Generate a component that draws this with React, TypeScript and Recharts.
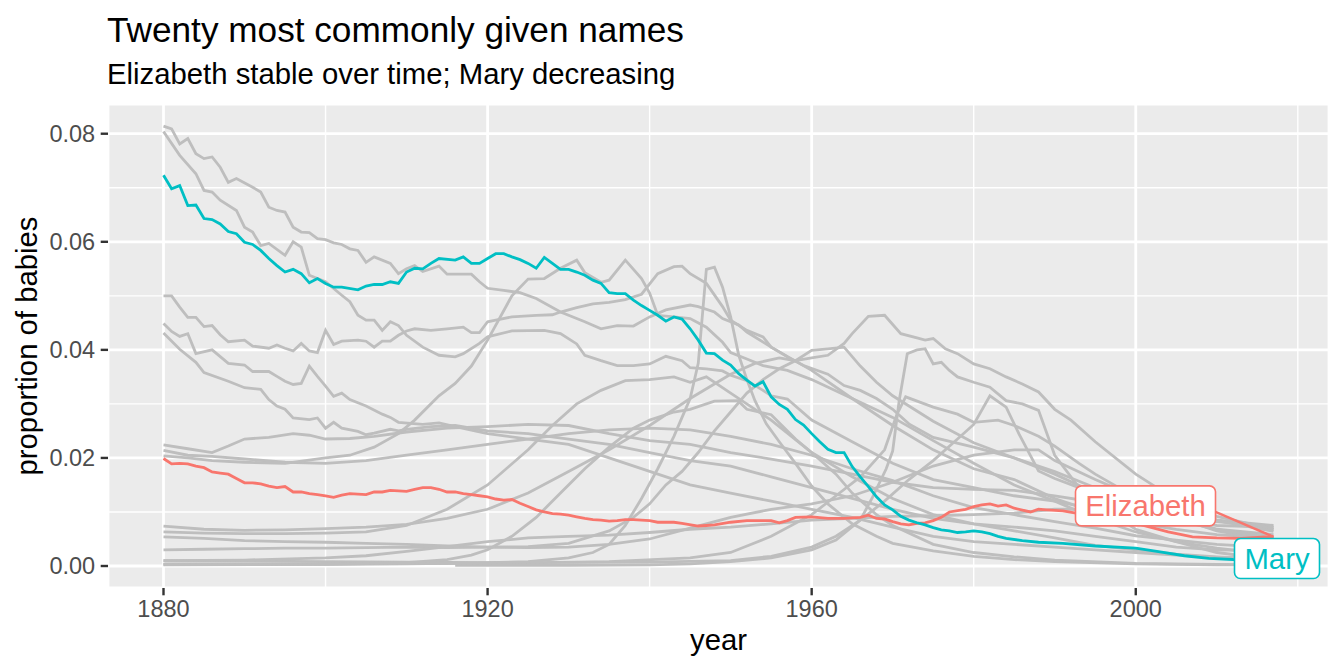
import React from 'react';
import { LineChart, Line, XAxis, YAxis, CartesianGrid, ReferenceDot } from 'recharts';

type Pt = [number, number];

const FONT = '"Liberation Sans", Arial, Helvetica, sans-serif';

const TITLE = 'Twenty most commonly given names';
const SUBTITLE = 'Elizabeth stable over time; Mary decreasing';
const X_TITLE = 'year';
const Y_TITLE = 'proportion of babies';

const YEAR_TICKS = [1880, 1920, 1960, 2000];
const YEAR_MINOR = [1900, 1940, 1980, 2020];
const PROP_TICKS = [0, 0.02, 0.04, 0.06, 0.08];
const PROP_MINOR = [0.01, 0.03, 0.05, 0.07];

const MARY: Pt[] = [
  [1880, .0723], [1881, .0698], [1882, .0704], [1883, .0667], [1884, .0668], [1885, .0643], [1886, .0641], [1887, .0633],
  [1888, .0619], [1889, .0615], [1890, .0599], [1891, .0595], [1892, .0584], [1893, .0569], [1894, .0556], [1895, .0544],
  [1896, .0549], [1897, .0541], [1898, .0524], [1899, .0532], [1900, .0523], [1901, .0516], [1902, .0516], [1904, .0511],
  [1905, .0518], [1906, .0521], [1907, .0521], [1908, .0526], [1909, .0523], [1910, .0544], [1911, .0551], [1912, .055],
  [1913, .056], [1914, .0569], [1916, .0566], [1917, .0572], [1918, .056], [1919, .056], [1920, .0569], [1921, .0578],
  [1922, .0578], [1923, .0572], [1924, .0567], [1925, .056], [1926, .0551], [1927, .0571], [1928, .056], [1929, .0549],
  [1930, .0549], [1931, .0544], [1932, .0538], [1933, .0529], [1934, .0523], [1935, .0506], [1936, .0504], [1937, .0504],
  [1938, .0492], [1939, .0482], [1940, .0473], [1941, .0464], [1942, .0453], [1943, .0461], [1944, .0457], [1945, .0439],
  [1946, .0418], [1947, .0394], [1948, .0393], [1949, .0381], [1950, .0372], [1951, .0356], [1952, .0344], [1953, .0333],
  [1954, .0341], [1955, .0313], [1956, .0299], [1957, .029], [1958, .0271], [1959, .0261], [1960, .0245], [1961, .023],
  [1962, .0216], [1963, .021], [1964, .021], [1965, .0184], [1966, .0165], [1967, .0147], [1968, .0128], [1969, .0113],
  [1970, .0104], [1971, .0092], [1972, .0085], [1973, .008], [1974, .0076], [1975, .0071], [1976, .0067], [1977, .0065],
  [1978, .0062], [1979, .0063], [1980, .0065], [1981, .0063], [1982, .006], [1983, .0055], [1984, .0051], [1986, .0047],
  [1988, .0044], [1991, .0042], [1995, .0037], [2000, .0033], [2003, .0026], [2006, .0019], [2009, .0014], [2012, .0012],
  [2017, .0011],
];

const ELIZABETH: Pt[] = [
  [1880, .0199], [1881, .0189], [1882, .019], [1883, .0189], [1884, .0185], [1885, .0182], [1886, .0174], [1887, .0172],
  [1888, .017], [1889, .0162], [1890, .0154], [1891, .0154], [1892, .0152], [1893, .0148], [1894, .0145], [1895, .0147],
  [1896, .0137], [1897, .0137], [1898, .0134], [1899, .0132], [1900, .013], [1901, .0127], [1902, .0131], [1903, .0134],
  [1905, .0132], [1906, .0137], [1907, .0137], [1908, .014], [1910, .0138], [1911, .0142], [1912, .0145], [1913, .0145],
  [1914, .0142], [1915, .0137], [1916, .0137], [1917, .0134], [1918, .0132], [1919, .013], [1920, .0128], [1921, .0124],
  [1922, .0122], [1923, .0123], [1924, .0116], [1925, .011], [1926, .0104], [1927, .01], [1928, .0097], [1929, .0096],
  [1930, .0094], [1931, .0091], [1932, .0088], [1933, .0086], [1934, .0085], [1935, .0083], [1936, .0084], [1937, .0086],
  [1938, .0086], [1939, .0085], [1940, .0084], [1941, .0081], [1943, .0081], [1944, .0079], [1946, .0074], [1947, .0075],
  [1948, .0076], [1950, .0081], [1952, .0084], [1955, .0084], [1956, .008], [1957, .0084], [1958, .009], [1960, .0091],
  [1962, .0088], [1964, .0088], [1966, .009], [1967, .0094], [1968, .0088], [1969, .0087], [1970, .0082], [1971, .0078],
  [1972, .0076], [1973, .0079], [1974, .008], [1975, .0084], [1976, .009], [1977, .01], [1979, .0105], [1980, .011],
  [1981, .0113], [1982, .0115], [1983, .0111], [1984, .0113], [1985, .0107], [1987, .01], [1988, .0105], [1989, .0104],
  [1991, .0102], [1993, .0097], [1995, .0091], [2000, .0079], [2004, .0063], [2007, .0054], [2010, .0052], [2013, .0051],
  [2016, .0054], [2017, .0054],
];

const JOHN: Pt[] = [
  [1880, .0814], [1881, .0809], [1882, .0781], [1883, .0791], [1884, .0763], [1885, .0754], [1886, .0757], [1887, .0738],
  [1888, .071], [1889, .0717], [1891, .0701], [1892, .0692], [1893, .0664], [1894, .0658], [1895, .0655], [1896, .0627],
  [1897, .0618], [1898, .0617], [1899, .0606], [1900, .0604], [1901, .0598], [1902, .0595], [1903, .0587], [1904, .0584],
  [1905, .0562], [1906, .0572], [1908, .056], [1909, .0541], [1910, .055], [1911, .0556], [1912, .0545], [1914, .0555],
  [1915, .054], [1918, .054], [1919, .0526], [1920, .0514], [1922, .051], [1924, .0506], [1926, .0495], [1929, .047],
  [1932, .0452], [1934, .0439], [1936, .0445], [1938, .0444], [1940, .0461], [1942, .0474], [1945, .0483], [1946, .048],
  [1948, .047], [1949, .0458], [1951, .0446], [1952, .0433], [1955, .0405], [1960, .0362], [1965, .031], [1970, .026],
  [1975, .0215], [1980, .018], [1985, .016], [1990, .0125], [1995, .01], [2000, .008], [2005, .0068], [2010, .0058],
  [2017, .0052],
];

const WILLIAM: Pt[] = [
  [1880, .0804], [1882, .076], [1884, .0726], [1885, .0695], [1886, .0692], [1887, .0677], [1889, .0658], [1890, .0627],
  [1891, .0618], [1892, .0593], [1893, .0597], [1895, .0575], [1896, .06], [1897, .059], [1898, .0538], [1900, .0526],
  [1902, .0501], [1903, .0489], [1904, .0464], [1905, .0455], [1906, .0455], [1907, .0436], [1908, .0452], [1909, .0445],
  [1910, .0427], [1912, .0405], [1914, .039], [1916, .0387], [1917, .0393], [1919, .0412], [1920, .0424], [1923, .0435],
  [1927, .0436], [1929, .043], [1931, .0411], [1932, .039], [1934, .038], [1936, .0371], [1938, .0371], [1940, .0374],
  [1942, .0388], [1944, .038], [1945, .0367], [1947, .0365], [1949, .0361], [1950, .0353], [1952, .0343], [1954, .0325],
  [1955, .0315], [1957, .0309], [1960, .027], [1965, .023], [1970, .019], [1975, .016], [1980, .0145], [1985, .013],
  [1990, .012], [1995, .0105], [2000, .009], [2005, .0085], [2010, .0085], [2017, .0075],
];

const JAMES: Pt[] = [
  [1880, .05], [1881, .05], [1882, .0479], [1883, .046], [1884, .046], [1885, .0443], [1886, .0445], [1887, .0428],
  [1888, .0415], [1890, .0418], [1891, .0407], [1893, .0403], [1894, .0409], [1895, .0403], [1896, .0398], [1897, .0412],
  [1898, .0398], [1899, .0395], [1900, .0436], [1901, .041], [1902, .0416], [1904, .0418], [1905, .0416], [1906, .0405],
  [1907, .0416], [1908, .0416], [1909, .0427], [1910, .0435], [1911, .0439], [1913, .0436], [1915, .0439], [1917, .0442],
  [1918, .0432], [1919, .0432], [1920, .0452], [1921, .0455], [1923, .0461], [1926, .0464], [1928, .0465], [1929, .047],
  [1931, .0478], [1933, .0485], [1935, .0488], [1937, .0493], [1939, .0503], [1941, .0541], [1943, .0554], [1944, .0555],
  [1945, .0541], [1947, .0523], [1949, .048], [1950, .0455], [1952, .0436], [1954, .0424], [1955, .0405], [1957, .0387],
  [1959, .0371], [1962, .0355], [1964, .0334], [1966, .0325], [1968, .031], [1970, .029], [1972, .0263], [1975, .0238],
  [1980, .022], [1985, .02], [1990, .0175], [1995, .0145], [2000, .0105], [2005, .0088], [2010, .0075], [2017, .0072],
];

const GEORGE: Pt[] = [
  [1880, .0449], [1881, .0434], [1882, .0425], [1883, .043], [1884, .0393], [1886, .04], [1888, .0375], [1890, .0372],
  [1891, .036], [1893, .036], [1894, .0351], [1895, .0342], [1896, .0336], [1897, .0338], [1898, .037], [1899, .0351],
  [1900, .0333], [1901, .0314], [1902, .032], [1903, .0308], [1905, .0296], [1907, .0281], [1908, .0275], [1909, .0266],
  [1912, .0262], [1914, .0265], [1916, .0258], [1920, .0245], [1925, .0235], [1930, .0225], [1935, .02], [1940, .0175],
  [1945, .015], [1950, .0135], [1955, .012], [1960, .0105], [1965, .009], [1970, .0072], [1975, .0055], [1980, .0045],
  [1985, .004], [1990, .0035], [1995, .003], [2000, .0025], [2005, .002], [2010, .0016], [2017, .0014],
];

const CHARLES: Pt[] = [
  [1880, .0431], [1882, .0401], [1884, .0377], [1885, .0358], [1888, .0342], [1890, .033], [1892, .0327], [1893, .0308],
  [1894, .0296], [1895, .029], [1896, .0274], [1898, .0271], [1899, .0274], [1900, .0255], [1901, .0266], [1902, .0255],
  [1904, .0249], [1905, .0243], [1906, .0246], [1908, .0253], [1909, .025], [1910, .0253], [1913, .0258], [1916, .026],
  [1920, .025], [1925, .0245], [1930, .0235], [1935, .0225], [1940, .021], [1945, .0195], [1950, .0185], [1955, .0165],
  [1960, .0145], [1965, .0125], [1970, .0105], [1975, .0088], [1980, .0078], [1985, .0072], [1990, .0065], [1995, .0055],
  [2000, .0045], [2005, .0035], [2010, .003], [2017, .0028],
];

const JOSEPH: Pt[] = [
  [1880, .0224], [1883, .0217], [1886, .021], [1888, .0222], [1890, .0235], [1893, .0238], [1896, .0245], [1898, .0242],
  [1900, .0235], [1903, .0236], [1906, .024], [1910, .0248], [1915, .0255], [1920, .0258], [1925, .0262], [1930, .026],
  [1935, .0245], [1940, .0232], [1945, .0225], [1950, .021], [1955, .0198], [1960, .0185], [1965, .017], [1970, .0155],
  [1975, .0145], [1980, .0142], [1985, .014], [1990, .013], [1995, .0118], [2000, .0103], [2005, .0092], [2010, .0082],
  [2017, .0072],
];

const THOMAS: Pt[] = [
  [1880, .0214], [1883, .0205], [1886, .0203], [1890, .0198], [1895, .0192], [1900, .019], [1905, .0195], [1910, .0205],
  [1915, .0215], [1920, .0225], [1925, .0235], [1930, .0245], [1935, .0252], [1940, .0255], [1945, .0252], [1950, .024],
  [1955, .0225], [1960, .0205], [1965, .018], [1970, .0158], [1975, .013], [1980, .0108], [1985, .0095], [1990, .0082],
  [1995, .007], [2000, .0056], [2005, .0048], [2010, .004], [2017, .0034],
];

const ROBERT: Pt[] = [
  [1880, .0204], [1883, .02], [1886, .0195], [1890, .0192], [1895, .019], [1900, .02], [1903, .0205], [1906, .022],
  [1909, .0245], [1911, .027], [1914, .0315], [1916, .0338], [1918, .037], [1920, .0418], [1923, .05], [1925, .0531],
  [1927, .0532], [1929, .0551], [1931, .0566], [1932, .0543], [1934, .0525], [1935, .0529], [1937, .0566], [1939, .0532],
  [1940, .0505], [1941, .0464], [1943, .0461], [1945, .0458], [1947, .0442], [1949, .0414], [1950, .0395], [1952, .0383],
  [1954, .0371], [1957, .0362], [1960, .0345], [1965, .031], [1970, .0275], [1975, .0232], [1980, .019], [1985, .015],
  [1990, .012], [1995, .0088], [2000, .0063], [2005, .0045], [2010, .0033], [2017, .0021],
];

const DAVID: Pt[] = [
  [1880, .0074], [1885, .0068], [1890, .0066], [1895, .0067], [1900, .0069], [1905, .0072], [1910, .0077], [1915, .0088],
  [1920, .0105], [1925, .0135], [1930, .0175], [1935, .0215], [1940, .026], [1945, .031], [1950, .0355], [1953, .0375],
  [1956, .0385], [1958, .038], [1960, .0399], [1962, .0402], [1964, .0405], [1966, .037], [1968, .034], [1970, .0315],
  [1975, .0268], [1980, .0228], [1985, .02], [1990, .017], [1995, .0135], [2000, .0105], [2005, .0085], [2010, .0068],
  [2017, .0058],
];

const RICHARD: Pt[] = [
  [1880, .0063], [1885, .0061], [1890, .006], [1895, .006], [1900, .0061], [1905, .0063], [1910, .0075], [1915, .0105],
  [1920, .015], [1925, .0215], [1928, .026], [1931, .03], [1934, .0325], [1937, .0343], [1940, .0345], [1943, .035],
  [1945, .034], [1947, .035], [1950, .032], [1955, .027], [1960, .021], [1965, .0165], [1970, .0125], [1975, .0095],
  [1980, .0078], [1985, .0065], [1990, .0052], [1995, .0038], [2000, .003], [2005, .0022], [2010, .0017], [2017, .0012],
];

const DANIEL: Pt[] = [
  [1880, .0054], [1885, .0051], [1890, .0047], [1895, .0045], [1900, .0044], [1905, .0042], [1910, .004], [1915, .0037],
  [1920, .0035], [1925, .0034], [1930, .0035], [1935, .004], [1940, .005], [1945, .007], [1950, .009], [1955, .0105],
  [1960, .0115], [1965, .013], [1970, .0155], [1975, .0185], [1980, .0205], [1985, .0215], [1988, .0215], [1990, .0195],
  [1995, .016], [2000, .0128], [2005, .0105], [2010, .0085], [2017, .0068],
];

const MICHAEL: Pt[] = [
  [1880, .003], [1885, .0031], [1890, .0032], [1895, .0033], [1900, .0033], [1905, .0034], [1910, .0035], [1915, .0034],
  [1920, .0035], [1925, .0036], [1930, .0042], [1935, .0065], [1938, .009], [1940, .0115], [1942, .015], [1944, .0175],
  [1946, .021], [1948, .025], [1950, .0285], [1952, .032], [1954, .0345], [1956, .0365], [1958, .038], [1960, .0385],
  [1962, .039], [1964, .0412], [1965, .043], [1967, .0462], [1969, .0464], [1971, .043], [1973, .0422], [1974, .0418],
  [1975, .0421], [1976.5, .0402], [1978, .0393], [1980, .0374], [1982, .0365], [1984, .035], [1986, .0337], [1988, .0322],
  [1990, .029], [1992, .027], [1995, .023], [2000, .017], [2005, .0122], [2010, .0092], [2017, .0068],
];

const CHRISTOPHER: Pt[] = [
  [1880, .0004], [1900, .0004], [1920, .0005], [1935, .0008], [1945, .0015], [1950, .0025], [1955, .0055], [1960, .0095],
  [1963, .013], [1966, .0165], [1969, .0215], [1970.5, .028], [1971.6, .0313], [1975, .0294], [1978, .0281], [1980, .0266],
  [1983, .027], [1985, .026], [1988, .024], [1990, .0222], [1993, .019], [1995, .017], [2000, .0127], [2005, .009],
  [2010, .0065], [2017, .0047],
];

const MATTHEW: Pt[] = [
  [1880, .001], [1900, .0008], [1920, .0006], [1940, .0007], [1950, .001], [1955, .0018], [1960, .0035], [1963, .0055],
  [1966, .0085], [1969, .012], [1972, .016], [1975, .0195], [1978, .0235], [1980, .0262], [1982, .0315], [1984, .0294],
  [1985.6, .0244], [1988, .0176], [1990, .0162], [1993, .0145], [1995, .0135], [2000, .0112], [2005, .0092], [2010, .0068],
  [2017, .0052],
];

const ANTHONY: Pt[] = [
  [1880, .001], [1890, .0011], [1900, .0015], [1905, .0019], [1910, .0027], [1915, .0036], [1920, .0045], [1925, .0052],
  [1930, .0055], [1935, .0057], [1940, .0062], [1945, .0068], [1950, .0072], [1955, .0078], [1960, .0085], [1965, .0088],
  [1970, .0092], [1975, .0093], [1980, .0095], [1985, .0098], [1990, .0105], [1995, .0105], [2000, .0098], [2005, .0092],
  [2010, .0084], [2017, .0064],
];

const JENNIFER: Pt[] = [
  [1916, .0001], [1930, .0001], [1940, .0002], [1945, .0004], [1950, .0008], [1955, .0015], [1960, .003], [1963, .0048],
  [1966, .0085], [1967.5, .0127], [1969.2, .018], [1970, .0213], [1970.8, .0306], [1971.8, .0393], [1973, .04],
  [1974, .0402], [1975, .0374], [1976, .0377], [1977, .0362], [1978, .035], [1980, .034], [1982, .0331], [1984, .0306],
  [1986, .03], [1988, .0288], [1990, .0205], [1993, .0145], [1995, .0115], [2000, .0068], [2005, .0045], [2010, .0025],
  [2017, .0012],
];

const LINDA: Pt[] = [
  [1880, .0003], [1900, .0003], [1910, .0004], [1920, .0006], [1925, .0008], [1930, .0015], [1933, .0025], [1935, .004],
  [1937, .0075], [1939, .0125], [1941, .018], [1943, .024], [1944, .0275], [1945, .031], [1946, .0375], [1947, .0549],
  [1948, .0553], [1949, .0516], [1950, .0461], [1951, .039], [1952, .0345], [1953, .0306], [1954.4, .0263], [1956, .023],
  [1958, .019], [1960, .0148], [1962, .0115], [1965, .0078], [1968, .0055], [1970, .0042], [1975, .0028], [1980, .0018],
  [1985, .0012], [1990, .0008], [2000, .0004], [2010, .0002], [2017, .0002],
];

const PATRICIA: Pt[] = [
  [1880, .0002], [1900, .0003], [1910, .0006], [1915, .0012], [1918, .002], [1920, .003], [1923, .0055], [1926, .009],
  [1929, .0135], [1932, .018], [1935, .022], [1938, .0255], [1940, .027], [1943, .0285], [1945, .029], [1948, .0305],
  [1950.9, .0306], [1952, .029], [1955, .028], [1958, .0235], [1960, .021], [1963, .017], [1965, .0135], [1968, .0095],
  [1970, .0075], [1975, .004], [1980, .0025], [1985, .0017], [1990, .0011], [2000, .0005], [2010, .0003], [2017, .0002],
];

const GRAY_NAMES = [
  'John', 'William', 'James', 'George', 'Charles', 'Joseph', 'Thomas', 'Robert', 'David',
  'Richard', 'Daniel', 'Michael', 'Christopher', 'Matthew', 'Anthony', 'Jennifer', 'Linda', 'Patricia',
];
const GRAY_SERIES: Pt[][] = [
  JOHN, WILLIAM, JAMES, GEORGE, CHARLES, JOSEPH, THOMAS, ROBERT, DAVID,
  RICHARD, DANIEL, MICHAEL, CHRISTOPHER, MATTHEW, ANTHONY, JENNIFER, LINDA, PATRICIA,
];

const toRows = (pts: Pt[]) => pts.map(([year, prop]) => ({ year, prop }));
const lastOf = (pts: Pt[]) => pts[pts.length - 1];

const GRAY = '#BEBEBE';
const RED = '#F8766D';
const TEAL = '#00BFC4';

type TagProps = {
  cx?: number; cy?: number; text: string; color: string;
  left: number; top: number; w: number; h: number; segment?: [number, number];
};

const Tag = ({ cx = 0, cy = 0, text, color, left, top, w, h, segment }: TagProps) => {
  const bx = cx + left;
  const by = cy + top;
  return (
    <g>
      {segment && (
        <line x1={cx + segment[0]} y1={cy + segment[1]} x2={cx} y2={cy} stroke={color} strokeWidth={2.4} />
      )}
      <rect x={bx} y={by} width={w} height={h} rx={6} ry={6} fill="#FFFFFF" stroke={color} strokeWidth={1.6} />
      <text x={bx + w / 2} y={by + h / 2 + 10} textAnchor="middle" fill={color} fontSize={29.3} fontFamily={FONT}>
        {text}
      </text>
    </g>
  );
};

export default function App() {
  const [eYear, eVal] = lastOf(ELIZABETH);
  const [mYear, mVal] = lastOf(MARY);
  return (
    <div style={{ position: 'absolute', left: 0, top: 0, width: 1344, height: 672, background: '#FFFFFF' }}>
      <LineChart width={1344} height={672} margin={{ top: 104, right: 15, bottom: 0, left: 0 }}>
        <CartesianGrid
          fill="#EBEBEB"
          stroke="#FFFFFF"
          strokeWidth={1.4}
          horizontalValues={PROP_MINOR}
          verticalValues={YEAR_MINOR}
        />
        <CartesianGrid stroke="#FFFFFF" strokeWidth={2.8} />
        <XAxis
          dataKey="year"
          type="number"
          domain={[1873.15, 2023.85]}
          ticks={YEAR_TICKS}
          allowDataOverflow
          height={84}
          tickSize={7.3}
          tickMargin={5.5}
          axisLine={false}
          tickLine={{ stroke: '#333333', strokeWidth: 2.4 }}
          tick={{ fill: '#4D4D4D', fontSize: 23.5, fontFamily: FONT }}
        />
        <YAxis
          type="number"
          domain={[-0.00407, 0.0855]}
          ticks={PROP_TICKS}
          allowDataOverflow
          width={108}
          tickSize={7.3}
          tickMargin={5.5}
          axisLine={false}
          tickLine={{ stroke: '#333333', strokeWidth: 2.4 }}
          tick={{ fill: '#4D4D4D', fontSize: 23.5, fontFamily: FONT }}
          tickFormatter={(v: number) => v.toFixed(2)}
        />
        {GRAY_SERIES.map((s, i) => (
          <Line
            key={GRAY_NAMES[i]}
            name={GRAY_NAMES[i]}
            data={toRows(s)}
            dataKey="prop"
            type="linear"
            stroke={GRAY}
            strokeWidth={2.8}
            dot={false}
            activeDot={false}
            isAnimationActive={false}
          />
        ))}
        <Line
          name="Elizabeth"
          data={toRows(ELIZABETH)}
          dataKey="prop"
          type="linear"
          stroke={RED}
          strokeWidth={2.8}
          dot={false}
          activeDot={false}
          isAnimationActive={false}
        />
        <Line
          name="Mary"
          data={toRows(MARY)}
          dataKey="prop"
          type="linear"
          stroke={TEAL}
          strokeWidth={2.8}
          dot={false}
          activeDot={false}
          isAnimationActive={false}
        />
        <ReferenceDot
          x={eYear}
          y={eVal}
          r={0}
          shape={(p: any) => (
            <Tag cx={p.cx} cy={p.cy} text="Elizabeth" color={RED} left={-198} top={-51} w={140} h={40} segment={[-58, -25]} />
          )}
        />
        <ReferenceDot
          x={mYear}
          y={mVal}
          r={0}
          shape={(p: any) => (
            <Tag cx={p.cx} cy={p.cy} text="Mary" color={TEAL} left={-39} top={-21.5} w={85} h={40} />
          )}
        />
      </LineChart>
      <svg
        width={1344}
        height={672}
        style={{ position: 'absolute', left: 0, top: 0, pointerEvents: 'none' }}
      >
        <text x={107} y={42} fontSize={35.2} fontFamily={FONT} fill="#000000">{TITLE}</text>
        <text x={107} y={84} fontSize={29.3} fontFamily={FONT} fill="#000000">{SUBTITLE}</text>
        <text x={718.5} y={650} textAnchor="middle" fontSize={29.3} fontFamily={FONT} fill="#000000">{X_TITLE}</text>
        <text
          transform="translate(37,346) rotate(-90)"
          textAnchor="middle"
          fontSize={29.3}
          fontFamily={FONT}
          fill="#000000"
        >
          {Y_TITLE}
        </text>
      </svg>
    </div>
  );
}
